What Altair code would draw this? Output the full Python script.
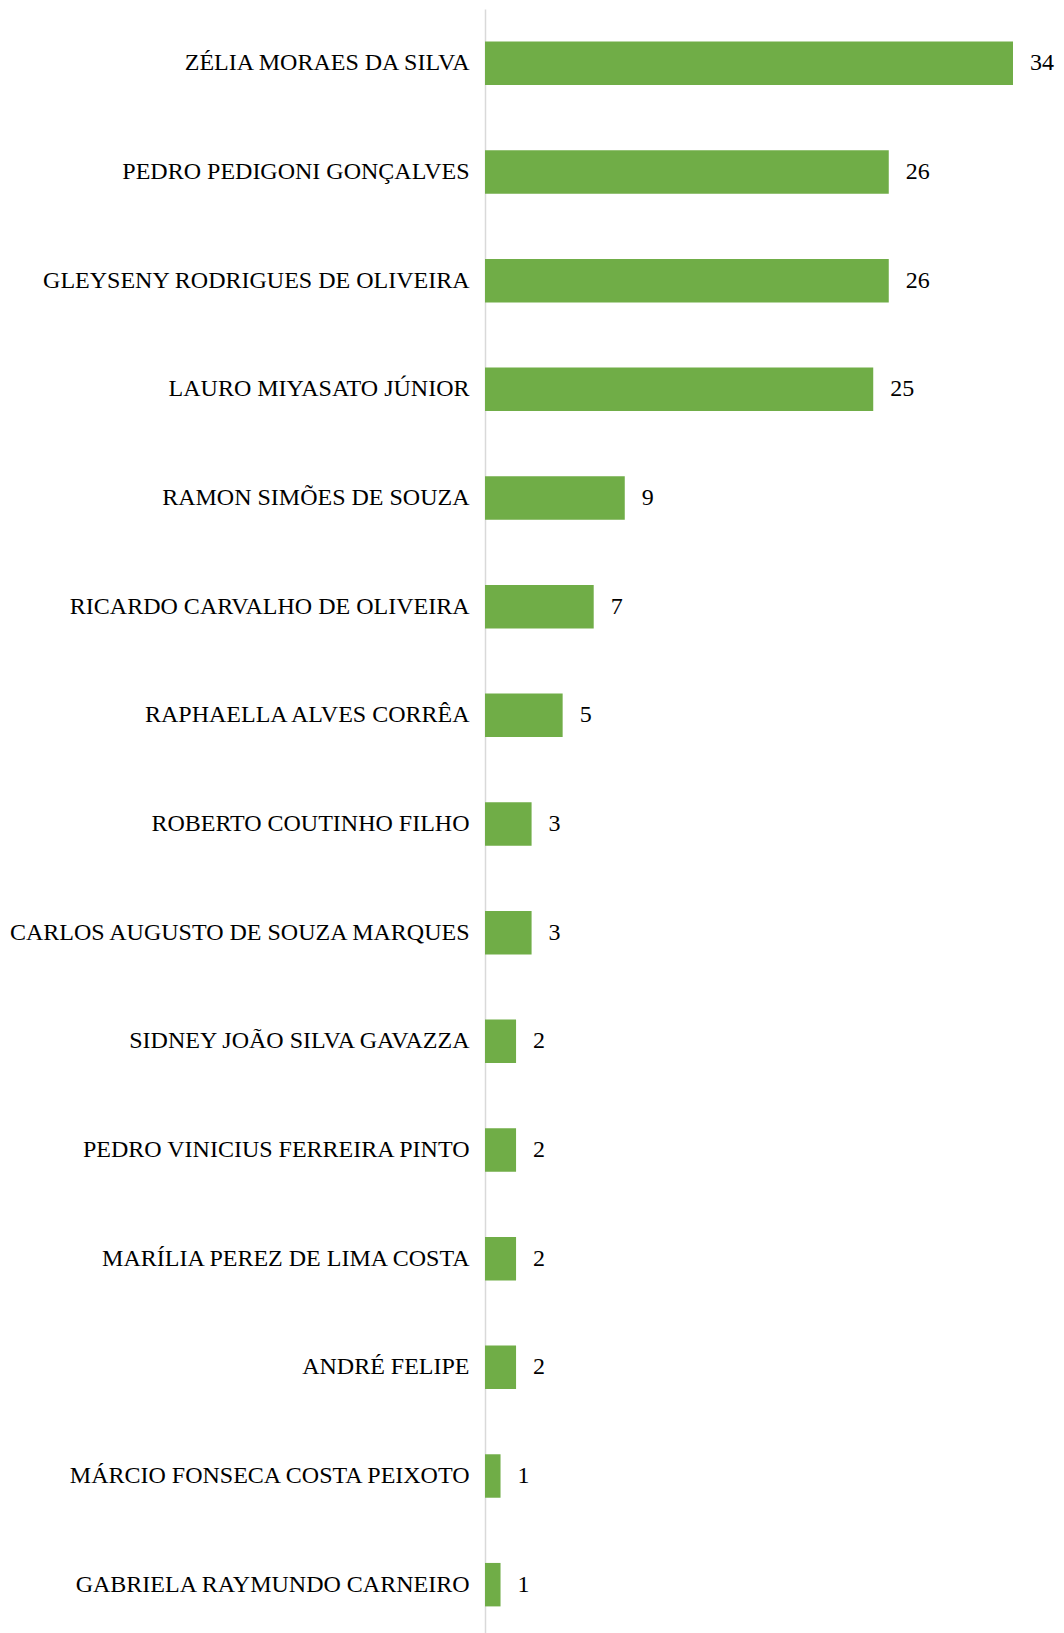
import altair as alt
import pandas as pd

names = [
    "ZÉLIA MORAES DA SILVA",
    "PEDRO PEDIGONI GONÇALVES",
    "GLEYSENY RODRIGUES DE OLIVEIRA",
    "LAURO MIYASATO JÚNIOR",
    "RAMON SIMÕES DE SOUZA",
    "RICARDO CARVALHO DE OLIVEIRA",
    "RAPHAELLA ALVES CORRÊA",
    "ROBERTO COUTINHO FILHO",
    "CARLOS AUGUSTO DE SOUZA MARQUES",
    "SIDNEY JOÃO SILVA GAVAZZA",
    "PEDRO VINICIUS FERREIRA PINTO",
    "MARÍLIA PEREZ DE LIMA COSTA",
    "ANDRÉ FELIPE",
    "MÁRCIO FONSECA COSTA PEIXOTO",
    "GABRIELA RAYMUNDO CARNEIRO",
]
values = [34, 26, 26, 25, 9, 7, 5, 3, 3, 2, 2, 2, 2, 1, 1]

df = pd.DataFrame({"name": names, "value": values})

FONT = "Liberation Serif"

y_enc = alt.Y(
    "name:N",
    sort=names,
    title=None,
    scale=alt.Scale(paddingInner=0.6, paddingOuter=0.3),
    axis=alt.Axis(
        ticks=False,
        labelFont=FONT,
        labelFontSize=24,
        labelColor="#000000",
        labelPadding=16,
        labelLimit=0,
        domainColor="#D9D9D9",
        domainWidth=1.5,
    ),
)
x_enc = alt.X(
    "value:Q",
    title=None,
    scale=alt.Scale(domain=[0, 34], nice=False, zero=True),
    axis=None,
)

bars = alt.Chart(df).mark_bar(color="#70AD47").encode(x=x_enc, y=y_enc)
labels = alt.Chart(df).mark_text(
    align="left", baseline="middle", dx=17, font=FONT, fontSize=24, color="#000000"
).encode(x=x_enc, y=y_enc, text="value:Q")

chart = (
    alt.layer(bars, labels)
    .properties(
        width=528,
        height=1630,
        background="white",
        autosize=alt.AutoSizeParams(type="none"),
        padding={"left": 477, "top": 1, "right": 43, "bottom": 0},
    )
    .configure_view(strokeWidth=0, stroke="transparent")
)

chart.save("out.html", embed_options={"renderer": "svg", "actions": False})
